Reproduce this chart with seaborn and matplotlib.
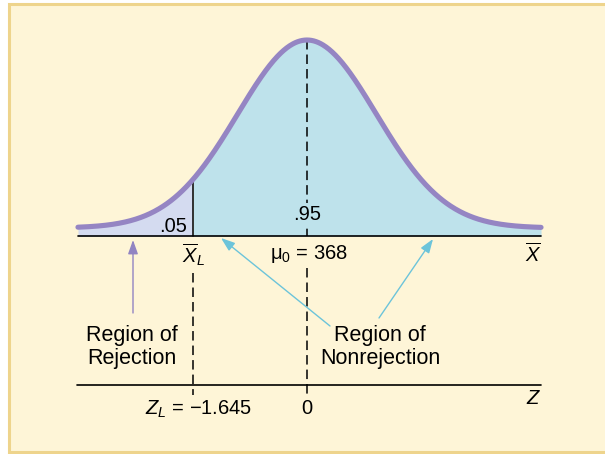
import numpy as np
import matplotlib
matplotlib.use("Agg")
import matplotlib.pyplot as plt
import seaborn as sns
import pandas as pd
from matplotlib.patches import Rectangle

# ---- data ----
mu0 = 368
alpha = 0.05
conf = 0.95
z_crit = -1.645
z_range = [-3.305, 3.377]
region_labels = ["Region of\nRejection", "Region of\nNonrejection"]

sns.set_theme(style="white")
plt.rcParams['font.family'] = ['Liberation Sans', 'DejaVu Sans']
plt.rcParams['text.color'] = 'black'
plt.rcParams['mathtext.fontset'] = 'custom'
plt.rcParams['mathtext.rm'] = 'Liberation Sans'
plt.rcParams['mathtext.it'] = 'Liberation Sans:italic'
plt.rcParams['mathtext.bf'] = 'Liberation Sans:bold'

W, H = 605, 454
fig = plt.figure(figsize=(W / 100, H / 100), dpi=100)
fig.patch.set_facecolor("white")

BG = "#FEF5D7"
BORDER = "#EED48C"
fig.patches.append(Rectangle((8.5 / W, 2.5 / H), (W + 20) / W, (H - 6.5) / H,
                             transform=fig.transFigure, facecolor=BG,
                             edgecolor=BORDER, linewidth=2.2, zorder=-10))

ax = fig.add_axes([0, 0, 1, 1])
ax.set_facecolor("none")
ax.patch.set_alpha(0)
PXX = 69.3    # px per z unit
PXY = 471.2   # px per density unit
X0, Y0 = 307, 236
def X(px):
    return (px - X0) / PXX
def Y(py):
    return (Y0 - py) / PXY

offset = Y(228)
z = np.linspace(z_range[0], z_range[1], 600)
dens = offset + np.exp(-z ** 2 / 2) / np.sqrt(2 * np.pi)
df = pd.DataFrame({"z": z, "d": dens})

LAV = "#D4DBF0"
BLUE = "#BEE2EB"
CURVE = "#9585C3"
CYAN = "#6CC4DA"
PURP = "#9184C2"

left = df[df.z <= z_crit]
right = df[df.z >= z_crit]
ax.fill_between(left.z, 0, left.d, color=LAV, lw=0, zorder=1)
ax.fill_between(right.z, 0, right.d, color=BLUE, lw=0, zorder=1)
sns.lineplot(data=df, x="z", y="d", color=CURVE, lw=3.7, ax=ax, zorder=3,
             legend=False)
ax.set_xlim(X(0), X(W))
ax.set_ylim(Y(H), Y(0))
ax.axis("off")

# axes lines
ax.plot([X(78), X(541)], [0, 0], color="black", lw=1.2, zorder=4)
yz = Y(385)
ax.plot([X(77), X(541)], [yz, yz], color="black", lw=1.2, zorder=4)

# vertical lines
dcrit = offset + np.exp(-z_crit ** 2 / 2) / np.sqrt(2 * np.pi)
ax.plot([z_crit, z_crit], [0, dcrit], color="black", lw=1.1, zorder=2)
dash = (0, (6.2, 3.3))
ax.plot([z_crit, z_crit], [Y(273), Y(395)], color="black", lw=1.1,
        linestyle=dash, zorder=2)
peak = offset + 1 / np.sqrt(2 * np.pi)
ax.plot([0, 0], [peak, 0], color="black", lw=1.1, linestyle=dash, zorder=2)
ax.plot([0, 0], [Y(268), Y(395)], color="black", lw=1.1, linestyle=dash, zorder=2)

FS = 14.5
FSR = 15.5
ax.text(X(173), Y(226), f"{alpha:.2f}".lstrip("0"), ha="center", va="center",
        fontsize=FS, zorder=5)
ax.text(0, Y(215), f"{conf:.2f}".lstrip("0"), ha="center", va="center",
        fontsize=FS, zorder=5,
        bbox=dict(boxstyle="square,pad=0.1", fc=BLUE, ec="none"))
ax.text(X(193), Y(242), r"$\overline{X}_L$", ha="center", va="top",
        fontsize=FS, zorder=5)
ax.text(X(309), Y(254), "μ$_0$ = " + str(mu0), ha="center", va="center",
        fontsize=FS, zorder=5,
        bbox=dict(boxstyle="square,pad=0.15", fc=BG, ec="none"))
ax.text(X(533), Y(242), r"$\overline{X}$", ha="center", va="top",
        fontsize=FS, zorder=5)
ax.text(X(132), Y(347), region_labels[0], ha="center", va="center",
        fontsize=FSR, linespacing=1.1, zorder=5)
ax.text(X(380), Y(347), region_labels[1], ha="center", va="center",
        fontsize=FSR, linespacing=1.1, zorder=5)
ax.text(X(252), Y(409), "$Z_L$ = \u2212" + f"{abs(z_crit):.3f}", ha="right",
        va="center", fontsize=FS, zorder=5)
ax.text(0, Y(409), "0", ha="center", va="center", fontsize=FS, zorder=5)
ax.text(X(534), Y(399), "$Z$", ha="center", va="center", fontsize=FS, zorder=5)

# arrows
ax.annotate("", xy=(X(133), Y(240)), xytext=(X(133), Y(313)),
            arrowprops=dict(arrowstyle="-|>,head_length=0.7,head_width=0.25",
                            color=PURP, lw=1.0, shrinkA=0, shrinkB=0), zorder=5)
ax.annotate("", xy=(X(221), Y(238)), xytext=(X(330), Y(326)),
            arrowprops=dict(arrowstyle="-|>,head_length=0.7,head_width=0.25",
                            color=CYAN, lw=1.0, shrinkA=0, shrinkB=0), zorder=5)
ax.annotate("", xy=(X(433), Y(239)), xytext=(X(379), Y(318)),
            arrowprops=dict(arrowstyle="-|>,head_length=0.7,head_width=0.25",
                            color=CYAN, lw=1.0, shrinkA=0, shrinkB=0), zorder=5)

fig.savefig("out.png", dpi=100)
